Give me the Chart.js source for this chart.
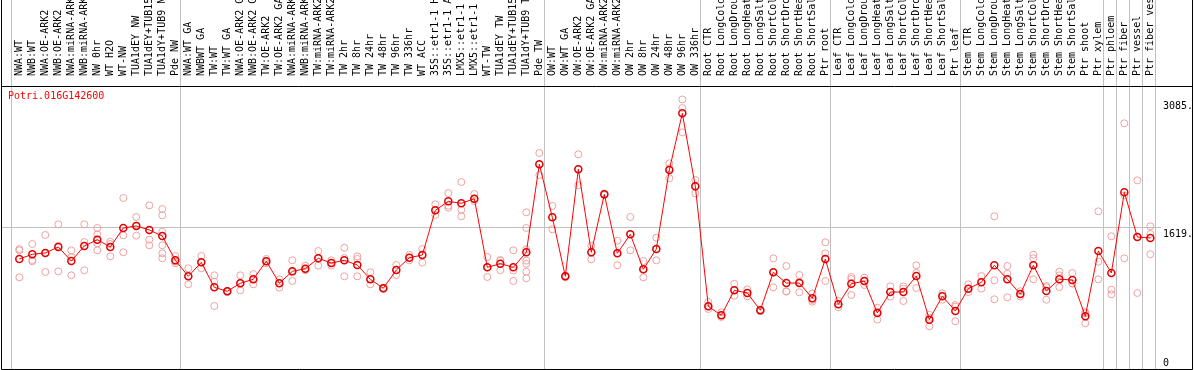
<!DOCTYPE html>
<html>
<head>
<meta charset="utf-8">
<script src="https://cdn.jsdelivr.net/npm/chart.js@4/dist/chart.umd.min.js"></script>
<style>
  html, body { margin: 0; padding: 0; background: #fff; }
  #wrap { width: 1194px; height: 370px; }
</style>
</head>
<body>
<div id="wrap"><canvas id="chart"></canvas></div>
<script>
var geneName = "Potri.016G142600";

var categories = [
  "NWA:WT", "NWB:WT", "NWA:OE-ARK2", "NWB:OE-ARK2", "NWA:miRNA-ARK2", "NWB:miRNA-ARK2",
  "NW 0hr", "WT H2O", "WT-NW", "TUA1dEY NW", "TUA1dEY+TUB15 NW", "TUA1dY+TUB9 NW", "Pde NW",
  "NWA:WT GA", "NWBWT GA", "TW:WT", "TW:WT GA", "NWA:OE-ARK2 GA", "NWB:OE-ARK2 GA",
  "TW:OE-ARK2", "TW:OE-ARK2 GA", "NWA:miRNA-ARK2 GA", "NWB:miRNA-ARK2 GA", "TW:miRNA-ARK2",
  "TW:miRNA-ARK2 GA", "TW 2hr", "TW 8hr", "TW 24hr", "TW 48hr", "TW 96hr", "TW 336hr",
  "WT ACC", "35S::etr1-1 H2O", "35S::etr1-1 ACC", "LMX5::etr1-1 H2O", "LMX5::etr1-1 ACC",
  "WT-TW", "TUA1dEY TW", "TUA1dEY+TUB15 TW", "TUA1dY+TUB9 TW", "Pde TW",
  "OW:WT", "OW:WT GA", "OW:OE-ARK2", "OW:OE-ARK2 GA", "OW:miRNA-ARK2", "OW:miRNA-ARK2 GA",
  "OW 2hr", "OW 8hr", "OW 24hr", "OW 48hr", "OW 96hr", "OW 336hr",
  "Root CTR", "Root LongCold", "Root LongDrought", "Root LongHeat", "Root LongSalt",
  "Root ShortCold", "Root ShortDrought", "Root ShortHeat", "Root ShortSalt", "Ptr root",
  "Leaf CTR", "Leaf LongCold", "Leaf LongDrought", "Leaf LongHeat", "Leaf LongSalt",
  "Leaf ShortCold", "Leaf ShortDrought", "Leaf ShortHeat", "Leaf ShortSalt", "Ptr leaf",
  "Stem CTR", "Stem LongCold", "Stem LongDrought", "Stem LongHeat", "Stem LongSalt",
  "Stem ShortCold", "Stem ShortDrought", "Stem ShortHeat", "Stem ShortSalt", "Ptr shoot",
  "Ptr xylem", "Ptr phloem", "Ptr fiber", "Ptr vessel", "Ptr fiber vessel"
];

// mean expression per sample
var means = [
  1259, 1313, 1328, 1396, 1236, 1408, 1480, 1396, 1614, 1637, 1591, 1522, 1244,
  1061, 1221, 935, 889, 981, 1027, 1233, 981, 1118, 1148, 1267, 1213, 1244, 1190,
  1027, 924, 1133, 1274, 1305, 1816, 1919, 1896, 1949, 1164, 1205, 1164, 1336, 2343,
  1736, 1061, 2286, 1336, 1999, 1324, 1542, 1141, 1373, 2278, 2926, 2091,
  717, 615, 900, 870, 672, 1107, 984, 984, 809, 1259,
  740, 976, 1007, 641, 881, 881, 1064, 565, 832, 664,
  919, 992, 1187, 1027, 858, 1187, 893, 1027, 1019, 603, 1351,
  1099, 2022, 1511, 1499
];

// individual replicates per sample
var replicates = [
  [1373, 1358, 1049], [1431, 1247, 1233], [1534, 1328, 1110], [1656, 1410, 1118],
  [1358, 1278, 1072], [1656, 1453, 1130], [1614, 1541, 1438, 1358], [1457, 1431, 1290],
  [1957, 1530, 1336], [1740, 1640, 1526], [1873, 1480, 1416],
  [1831, 1759, 1571, 1416, 1324, 1267], [1293, 1230, 1210],
  [1152, 1061, 969], [1293, 1221, 1152], [1072, 999, 721], [880, 895, 892],
  [1072, 986, 900], [1087, 1027, 969], [1259, 1233, 1210], [1027, 981, 931],
  [1244, 1110, 1007], [1183, 1148, 1130], [1350, 1267, 1183], [1244, 1213, 1183],
  [1388, 1270, 1061], [1290, 1259, 1061], [1107, 1027, 969], [930, 924, 918],
  [1190, 1133, 1076], [1305, 1274, 1243], [1373, 1305, 1217], [1885, 1816, 1763],
  [2014, 1869, 1846], [2140, 1823, 1748], [2003, 1949, 1923], [1282, 1164, 1053],
  [1247, 1238, 1130], [1358, 1127, 1007], [1793, 1614, 1370, 1240, 1205, 1114, 1038],
  [2472, 2343, 2220],
  [1866, 1736, 1599], [1070, 1062, 1050], [2457, 2286, 2102], [1411, 1336, 1255],
  [2005, 2000, 1990], [1468, 1324, 1187], [1740, 1542, 1358], [1236, 1141, 1049],
  [1503, 1373, 1244], [2354, 2296, 2183], [3085, 2987, 2709], [2163, 2091, 2011],
  [767, 717, 687], [649, 615, 595], [976, 900, 839], [912, 870, 832], [680, 672, 660],
  [1267, 1107, 935], [1179, 890, 885], [1076, 998, 878], [866, 790, 770], [1450, 1324, 1007],
  [778, 740, 706], [1053, 1030, 847], [1045, 1007, 961], [702, 655, 565], [946, 881, 828],
  [946, 919, 778], [1187, 1099, 927], [620, 587, 488], [865, 839, 793], [732, 714, 546],
  [969, 919, 881], [1064, 992, 919], [1748, 1015, 798], [1179, 1091, 821], [890, 858, 830],
  [1308, 1267, 1027], [948, 938, 793], [1114, 1072, 938], [1099, 981, 977], [649, 637, 523],
  [1805, 1228, 1027],
  [1519, 908, 855], [2812, 1988, 1267], [2159, 1511, 870], [1633, 1545, 1313]
];

var yTicks = [0, 1619, 3085];
var yTickLabels = ["0", "1619.", "3085."];
var yMax = 3239;

// last sample index of each group, separators go just after
var groupEnds = [-1, 12, 40, 52, 62, 72, 83, 84, 85, 86, 87];

var monoFont = { family: "'DejaVu Sans Mono', monospace", size: 10 };

var meanPoints = means.map(function (v, i) { return { x: i, y: v }; });
var repPoints = [];
replicates.forEach(function (reps, i) {
  reps.forEach(function (v) { repPoints.push({ x: i, y: v }); });
});

function noPad(s) {
  s.paddingLeft = 0; s.paddingRight = 0; s.paddingTop = 0; s.paddingBottom = 0;
}

var decor = {
  id: "decor",
  beforeDatasetsDraw: function (chart) {
    var ctx = chart.ctx, area = chart.chartArea, xs = chart.scales.x;
    ctx.save();
    // group separators
    ctx.strokeStyle = "#c0c0c0";
    ctx.lineWidth = 1;
    groupEnds.forEach(function (g) {
      var px = Math.round(xs.getPixelForValue(g + 0.38)) + 0.5;
      ctx.beginPath();
      ctx.moveTo(px, 0);
      ctx.lineTo(px, area.bottom);
      ctx.stroke();
    });
    // frame
    ctx.strokeStyle = "#000";
    ctx.beginPath();
    ctx.moveTo(area.left + 0.5, 0);
    ctx.lineTo(area.left + 0.5, area.bottom + 0.5);
    ctx.lineTo(chart.width - 1.5, area.bottom + 0.5);
    ctx.lineTo(chart.width - 1.5, 0);
    ctx.moveTo(area.left, area.top + 0.5);
    ctx.lineTo(chart.width - 1.5, area.top + 0.5);
    ctx.stroke();
    ctx.restore();
  },
  afterDraw: function (chart) {
    var ctx = chart.ctx, area = chart.chartArea, ys = chart.scales.y;
    ctx.save();
    ctx.font = "10px 'DejaVu Sans Mono', monospace";
    ctx.textAlign = "left";
    ctx.fillStyle = "#000";
    yTicks.forEach(function (v, i) {
      var py = ys.getPixelForValue(v);
      if (v === 0) {
        ctx.textBaseline = "bottom";
        ctx.fillText(yTickLabels[i], area.right + 2, py - 1);
      } else {
        ctx.textBaseline = "top";
        ctx.fillText(yTickLabels[i], area.right + 2, py + 2);
      }
    });
    ctx.fillStyle = "#ff0000";
    ctx.textBaseline = "top";
    ctx.fillText(geneName, area.left + 7, area.top + 5);
    ctx.restore();
  }
};

new Chart("chart", {
  type: "line",
  data: {
    datasets: [{
      label: "mean",
      data: meanPoints,
      borderColor: "#ff0000",
      borderWidth: 1,
      pointRadius: 3.5,
      pointBorderWidth: 1.5,
      pointBorderColor: "#e00000",
      pointBackgroundColor: "rgba(0,0,0,0)",
      order: 0
    }, {
      label: "replicates",
      data: repPoints,
      showLine: false,
      pointRadius: 3.5,
      pointBorderWidth: 1,
      pointBorderColor: "#f0a0a0",
      pointBackgroundColor: "rgba(0,0,0,0)",
      order: 1
    }]
  },
  options: {
    responsive: true,
    maintainAspectRatio: false,
    animation: false,
    layout: { autoPadding: false, padding: { left: 1, right: 1, top: 0, bottom: 1 } },
    plugins: {
      legend: { display: false },
      tooltip: { enabled: false }
    },
    scales: {
      x: {
        type: "linear",
        position: "top",
        min: -1.408,
        max: 87.82,
        afterBuildTicks: function (s) {
          s.ticks = categories.map(function (c, i) { return { value: i }; });
        },
        afterFit: function (s) { s.height = 86; noPad(s); },
        grid: { display: false },
        border: { display: false },
        ticks: {
          autoSkip: false,
          minRotation: 90,
          maxRotation: 90,
          padding: 2,
          labelOffset: 12,
          color: "#000",
          font: monoFont,
          callback: function (v) { return categories[v]; }
        }
      },
      y: {
        type: "linear",
        position: "right",
        min: 0,
        max: yMax,
        afterBuildTicks: function (s) {
          s.ticks = yTicks.map(function (v) { return { value: v }; });
        },
        afterFit: function (s) { s.width = 32; noPad(s); },
        border: { display: false },
        grid: {
          drawTicks: false,
          color: function (c) {
            return (c.index > 0 && c.index < yTicks.length - 1) ? "#c0c0c0" : "rgba(0,0,0,0)";
          }
        },
        ticks: { display: false }
      }
    }
  },
  plugins: [decor]
});
</script>
</body>
</html>
